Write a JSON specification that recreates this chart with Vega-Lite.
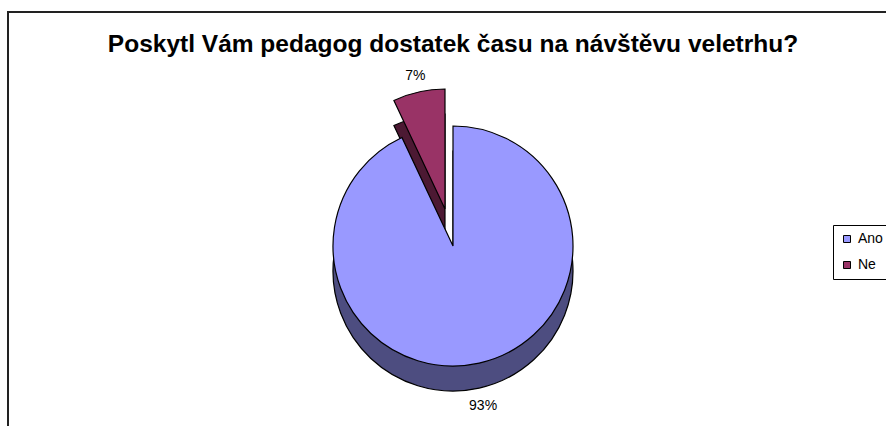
{
  "$schema": "https://vega.github.io/schema/vega-lite/v6.json",
  "width": 890,
  "height": 468,
  "autosize": {"type": "none"},
  "padding": {"left": 8, "top": 12, "right": 0, "bottom": 0},
  "background": "white",
  "view": {"stroke": "#222222", "strokeWidth": 2, "fill": "white"},
  "title": {
    "text": "Poskytl Vám pedagog dostatek času na návštěvu veletrhu?",
    "font": "Liberation Sans",
    "fontSize": 24.5,
    "fontWeight": "bold",
    "color": "black",
    "anchor": "middle",
    "baseline": "alphabetic",
    "offset": -64
  },
  "data": {
    "values": [
      {"category": "Ano", "value": 93, "label": "93%"},
      {"category": "Ne", "value": 7, "label": "7%"}
    ]
  },
  "encoding": {
    "theta": {"field": "value", "type": "quantitative", "stack": true},
    "order": {"field": "category", "type": "nominal", "sort": "ascending"}
  },
  "layer": [
    {
      "mark": {"type": "arc", "outerRadius": 120, "yOffset": 25, "stroke": "black", "strokeWidth": 1.2, "fill": "#4D4D80"},
      "encoding": {
        "opacity": {"condition": {"test": "datum.category == 'Ne'", "value": 0}, "value": 1}
      }
    },
    {
      "mark": {"type": "arc", "outerRadius": 120, "xOffset": -8, "yOffset": -12, "stroke": "black", "strokeWidth": 1.2, "fill": "#4C1933"},
      "encoding": {
        "opacity": {"condition": {"test": "datum.category == 'Ano'", "value": 0}, "value": 1}
      }
    },
    {
      "mark": {"type": "arc", "outerRadius": 120, "stroke": "black", "strokeWidth": 1.2},
      "encoding": {
        "color": {
          "field": "category",
          "type": "nominal",
          "scale": {"domain": ["Ano", "Ne"], "range": ["#9999FF", "#993366"]},
          "legend": {
            "orient": "none",
            "legendX": 825,
            "legendY": 213,
            "title": null,
            "symbolType": "square",
            "symbolSize": 49,
            "symbolStrokeColor": "black",
            "symbolStrokeWidth": 1,
            "symbolOpacity": 1,
            "labelFont": "Liberation Sans",
            "labelFontSize": 14,
            "labelColor": "black",
            "labelOffset": 4,
            "strokeColor": "black",
            "fillColor": "white",
            "padding": 7,
            "rowPadding": 12
          }
        },
        "opacity": {"condition": {"test": "datum.category == 'Ne'", "value": 0}, "value": 1}
      }
    },
    {
      "mark": {"type": "arc", "outerRadius": 120, "xOffset": -8, "yOffset": -37, "stroke": "black", "strokeWidth": 1.2},
      "encoding": {
        "color": {"field": "category", "type": "nominal"},
        "opacity": {"condition": {"test": "datum.category == 'Ano'", "value": 0}, "value": 1}
      }
    },
    {
      "mark": {"type": "text", "radius": 138, "yOffset": 25, "font": "Liberation Sans", "fontSize": 14, "color": "black"},
      "encoding": {
        "text": {"condition": {"test": "datum.category == 'Ano'", "field": "label"}, "value": ""}
      }
    },
    {
      "mark": {"type": "text", "radius": 136, "xOffset": -8, "yOffset": -37, "font": "Liberation Sans", "fontSize": 14, "color": "black"},
      "encoding": {
        "text": {"condition": {"test": "datum.category == 'Ne'", "field": "label"}, "value": ""}
      }
    }
  ]
}
